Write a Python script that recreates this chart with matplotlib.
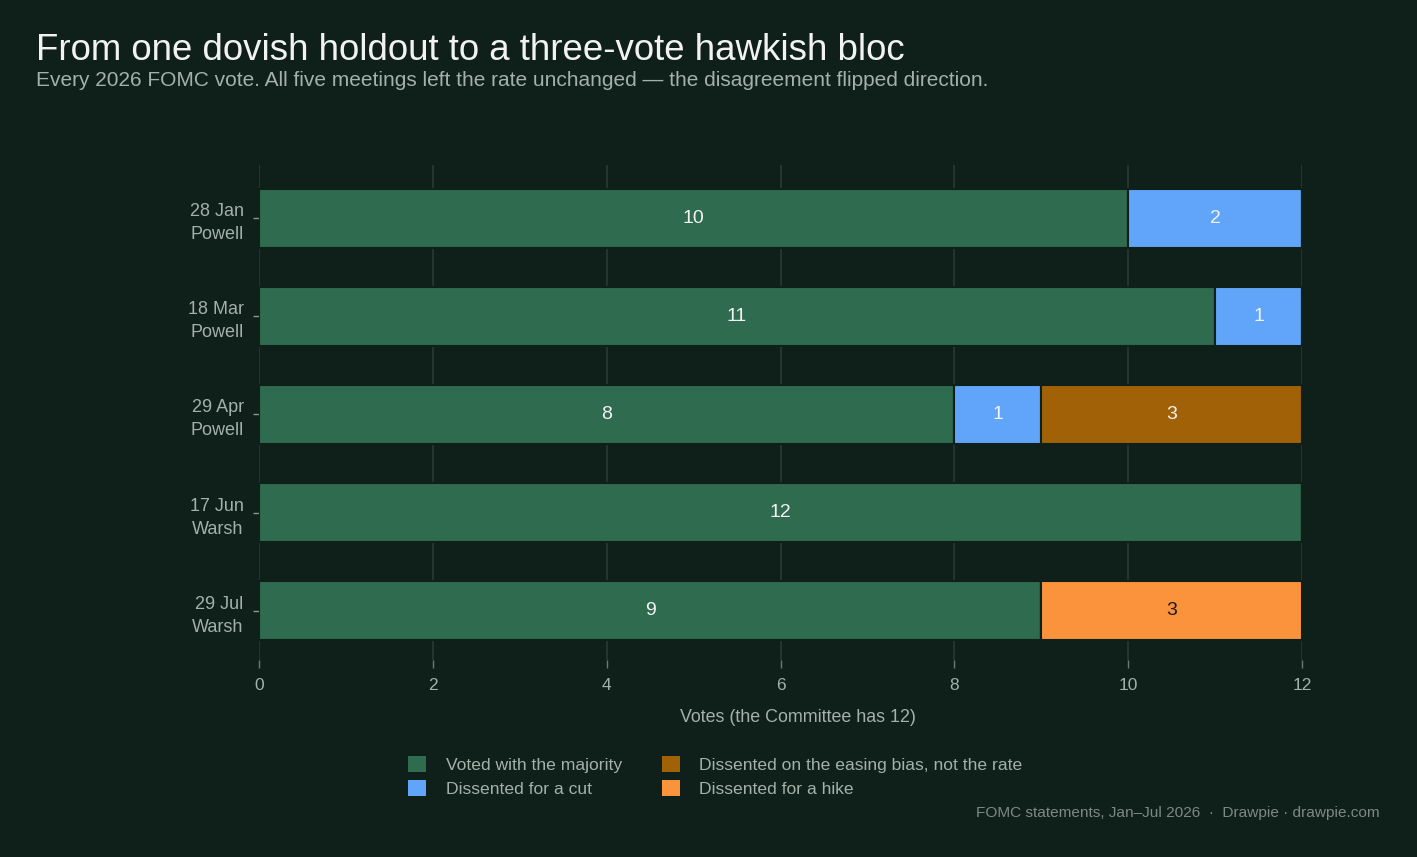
import matplotlib
matplotlib.use("Agg")
import matplotlib.pyplot as plt
import numpy as np
from matplotlib.patches import Patch

plt.rcParams['font.family'] = ['Liberation Sans', 'DejaVu Sans']

meetings = ["28 Jan\nPowell", "18 Mar\nPowell", "29 Apr\nPowell", "17 Jun\nWarsh", "29 Jul\nWarsh"]
majority = [10, 11, 8, 12, 9]
cut = [2, 1, 1, 0, 0]
easing = [0, 0, 3, 0, 0]
hike = [0, 0, 0, 0, 3]
series_names = ["Voted with the majority", "Dissented for a cut",
                "Dissented on the easing bias, not the rate", "Dissented for a hike"]
x_ticks = [0, 2, 4, 6, 8, 10, 12]

BG = "#0f1f1a"
colors = ["#2e6b4f", "#60a5fa", "#a16207", "#fb923c"]
label_colors = ["#f2f2f2", "#f2f2f2", "#f2f2f2", "#1a1a1a"]
GRID = "#25352e"
TXT = "#a3b1aa"

fig = plt.figure(figsize=(14.17, 8.57), dpi=100, facecolor=BG)
ax = fig.add_axes([259/1417, 1-660/857, (1302-259)/1417, (660-165)/857])
ax.set_facecolor(BG)

y = np.arange(len(meetings))
left = np.zeros(len(meetings))
for vals, col, lc in zip([majority, cut, easing, hike], colors, label_colors):
    vals = np.array(vals, dtype=float)
    ax.barh(y, vals, left=left, height=0.6, color=col, edgecolor=BG, linewidth=1.5, zorder=3)
    for yi, (l, v) in enumerate(zip(left, vals)):
        if v > 0:
            ax.text(l + v/2, yi, f"{int(v)}", ha='center', va='center', color=lc,
                    fontsize=14, zorder=4)
    left += vals

ax.set_xlim(0, 12)
ax.set_ylim(4.5, -0.54)
ax.set_xticks(x_ticks)
ax.set_xticklabels([str(t) for t in x_ticks])
ax.set_yticks(y)
ax.set_yticklabels(meetings)
ax.grid(axis='x', color=GRID, linewidth=1.5, zorder=0)
for s in ax.spines.values():
    s.set_visible(False)
ax.tick_params(axis='x', colors=TXT, labelsize=12.5, length=6, width=1, pad=7, color="#6b7a73")
ax.tick_params(axis='y', colors=TXT, labelsize=13, length=4, width=1, pad=7, color="#8a9891")
for lab in ax.get_yticklabels():
    lab.set_linespacing(1.45)
    lab.set_multialignment('right')

fig.text(798/1417, 1-717/857, "Votes (the Committee has 12)", ha='center', va='center',
         color=TXT, fontsize=12.9)

fig.text(36/1417, 1-51/857, "From one dovish holdout to a three-vote hawkish bloc",
         ha='left', va='center', color="#f2f2f2", fontsize=26.4)
fig.text(36/1417, 1-81/857,
         "Every 2026 FOMC vote. All five meetings left the rate unchanged \u2014 the disagreement flipped direction.",
         ha='left', va='center', color=TXT, fontsize=15)

handles = [Patch(facecolor=c, edgecolor='none') for c in colors]
leg = fig.legend(handles, series_names,
                 loc='center', bbox_to_anchor=(715.5/1417, 1-776.5/857), ncol=2,
                 frameon=False, fontsize=12.6, handlelength=1.03, handleheight=1.03,
                 columnspacing=2.3, handletextpad=1.1, labelspacing=0.4)
for t in leg.get_texts():
    t.set_color(TXT)

fig.text(1380/1417, 1-813/857, "FOMC statements, Jan\u2013Jul 2026  \u00b7  Drawpie \u00b7 drawpie.com",
         ha='right', va='center', color="#7d8a84", fontsize=11.1)

fig.savefig("out.png", dpi=100, facecolor=BG)
